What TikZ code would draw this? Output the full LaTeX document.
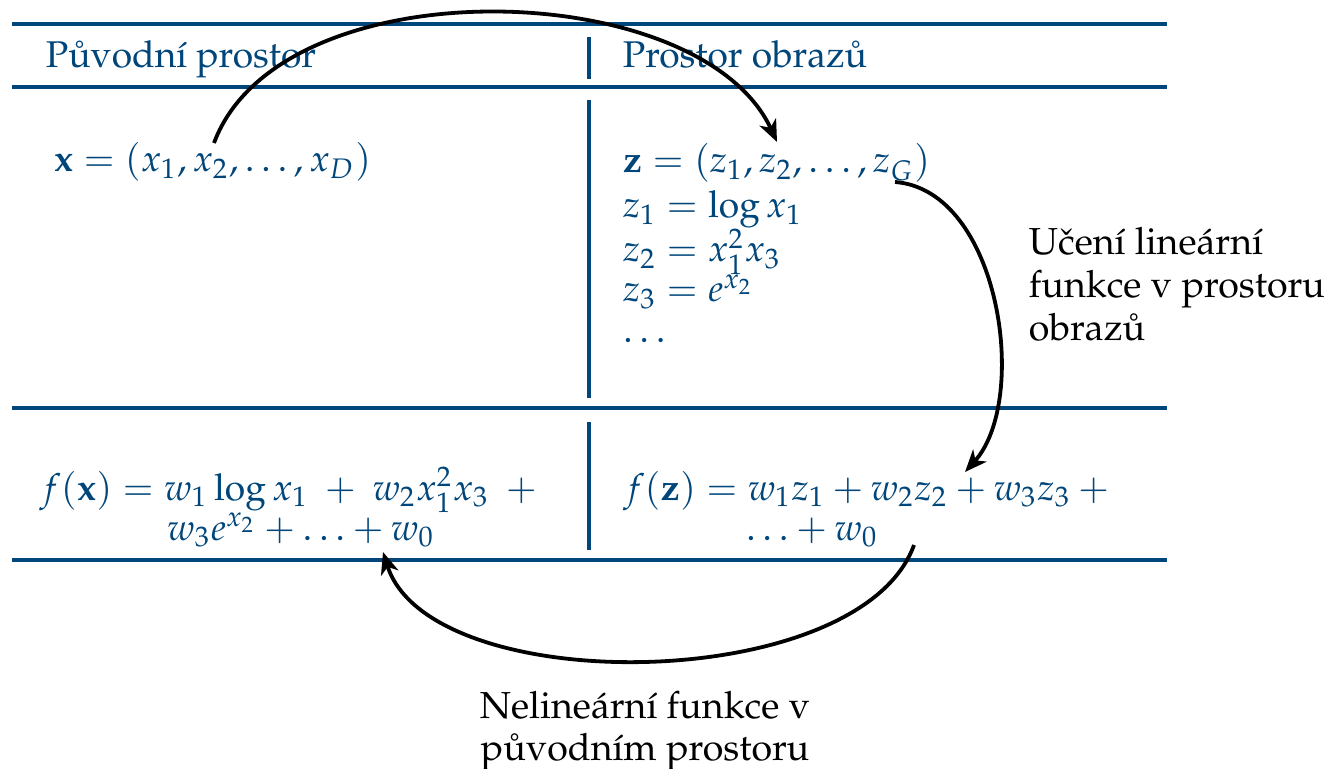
\documentclass[tikz,border=0pt]{standalone}
\usepackage[T1]{fontenc}
\usepackage{mathpazo}
\usetikzlibrary{arrows.meta}
\definecolor{tblue}{RGB}{0,70,122}
\begin{document}
\begin{tikzpicture}[x=0.25pt,y=-0.25pt,
  hrule/.style={draw=tblue,line width=1.1pt},
  vrule/.style={draw=tblue,line width=0.85pt},
  cell/.style={text=tblue,inner sep=0pt,font=\fontsize{9.3}{11}\selectfont},
  lab/.style={text=black,inner sep=0pt,font=\fontsize{9.4}{11}\selectfont},
  flow/.style={draw=black,line width=0.95pt,-{Stealth[length=5.5pt,width=4.5pt,inset=1.6pt]}}]
\useasboundingbox (0,0) rectangle (1325,769);
% table rules
\draw[hrule] (12,24) -- (1167,24);
\draw[hrule] (12,87) -- (1167,87);
\draw[hrule] (12,408) -- (1167,408);
\draw[hrule] (12,560) -- (1167,560);
\draw[vrule] (589,37) -- (589,79);
\draw[vrule] (589,100) -- (589,398);
\draw[vrule] (589,422) -- (589,550);
% header
\node[cell,anchor=base west] (h1) at (45,68) {P\r{u}vodn\'{\i} prostor};
\node[cell,anchor=base west] (h2) at (622,68) {Prostor obraz\r{u}};
% body
\node[cell,anchor=base west] (xv) at (53,172) {$\mathbf{x}=(x_1,x_2,\ldots,x_D)$};
\node[cell,anchor=base west] (z0) at (622,173) {$\mathbf{z}=(z_1,z_2,\ldots,z_G)$};
\node[cell,anchor=base west] (z1) at (622,218) {$z_1=\log x_1$};
\node[cell,anchor=base west] (z2) at (622,262) {$z_2=x_1^2x_3$};
\node[cell,anchor=base west] (z3) at (622,302) {$z_3=e^{x_2}$};
\node[cell,anchor=base west] (z4) at (622,343) {$\ldots$};
% functions
\node[cell,anchor=base] (fx1) at (292,500) {$f(\mathbf{x})=w_1\log x_1\ +\ w_2x_1^2x_3\ +{}$};
\node[cell,anchor=base] (fx2) at (301,540) {$w_3e^{x_2}+\ldots+w_0$};
\node[cell,anchor=base] (fz1) at (870,500) {$f(\mathbf{z})=w_1z_1+w_2z_2+w_3z_3+{}$};
\node[cell,anchor=base] (fz2) at (812,540) {$\ldots+w_0$};
% labels
\node[lab,anchor=base west] (la1) at (1028,255) {U\v{c}en\'{\i} line\'arn\'{\i}};
\node[lab,anchor=base west] (la2) at (1028,298) {funkce v prostoru};
\node[lab,anchor=base west] (la3) at (1028,340) {obraz\r{u}};
\node[lab,anchor=base] (lb1) at (645,718) {Neline\'arn\'{\i} funkce v};
\node[lab,anchor=base] (lb2) at (645,760) {p\r{u}vodn\'{\i}m prostoru};
% arrow end points
\coordinate (s1) at (214,143);
\coordinate (e1) at (777,142);
\coordinate (s2) at (895,182);
\coordinate (e2) at (965,472);
\coordinate (s3) at (914,545);
\coordinate (e3) at (383,552);
\draw[flow] (s1) .. controls (280,-35) and (700,-25) .. (e1);
\draw[flow] (s2) .. controls (1000,190) and (1030,400) .. (e2);
\draw[flow] (s3) .. controls (860,695) and (430,700) .. (e3);
\end{tikzpicture}
\end{document}
